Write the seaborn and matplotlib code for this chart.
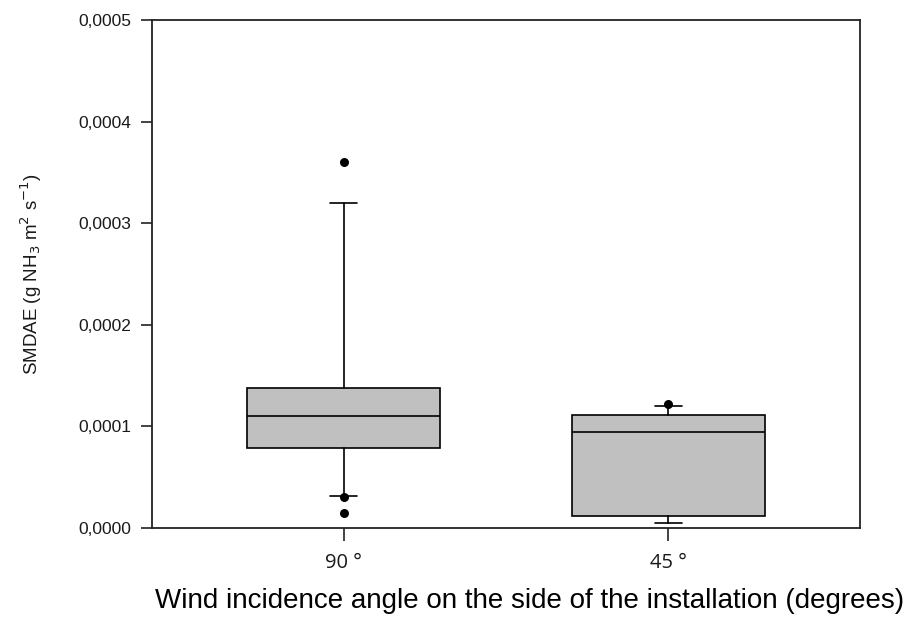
import numpy as np
import pandas as pd
import matplotlib
matplotlib.use("Agg")
import matplotlib.pyplot as plt
import seaborn as sns
from matplotlib.ticker import FuncFormatter

# Summary statistics per wind incidence angle (g NH3 m-2 s-1)
angles = ["90 °", "45 °"]
p10 = [0.0000315, 0.0000045]
q1 = [0.0000785, 0.0000120]
median = [0.0001100, 0.0000945]
q3 = [0.0001375, 0.0001110]
p90 = [0.0003200, 0.0001200]

# Values beyond the 10th/90th percentiles
outlier_angle = ["90 °", "90 °", "90 °", "45 °"]
outlier_value = [0.000360, 0.0000305, 0.0000150, 0.0001225]

sns.set_style("ticks")
plt.rcParams["font.family"] = ["Liberation Sans", "DejaVu Sans"]
plt.rcParams["text.color"] = "black"
plt.rcParams["xtick.color"] = "black"
plt.rcParams["ytick.color"] = "black"

fig = plt.figure(figsize=(9.10, 6.19), dpi=100)
ax = fig.add_axes([0.167, 0.147, 0.778, 0.8207])

stats = [
    dict(label=a, whislo=lo, q1=b1, med=m, q3=b3, whishi=hi, fliers=[])
    for a, lo, b1, m, b3, hi in zip(angles, p10, q1, median, q3, p90)
]
positions = np.arange(len(angles))
lw = 1.2
ax.bxp(
    stats,
    positions=positions,
    widths=0.594,
    capwidths=0.085,
    patch_artist=True,
    showfliers=False,
    boxprops=dict(facecolor="#c0c0c0", edgecolor="black", linewidth=lw),
    medianprops=dict(color="black", linewidth=lw),
    whiskerprops=dict(color="black", linewidth=lw),
    capprops=dict(color="black", linewidth=lw),
)

out = pd.DataFrame({"angle": outlier_angle, "value": outlier_value})
out["pos"] = out["angle"].map({a: i for i, a in enumerate(angles)})
sns.scatterplot(data=out, x="pos", y="value", ax=ax, color="black",
                marker="o", s=42, edgecolor="black", linewidth=0, zorder=5,
                legend=False)

ax.set_xlim(-0.59, 1.59)
ax.set_ylim(0, 0.0005)
ax.set_yticks(np.arange(0, 0.00051, 0.0001))
ax.yaxis.set_major_formatter(FuncFormatter(lambda v, _: f"{v:.4f}".replace(".", ",")))
ax.set_xticks(positions)
ax.set_xticklabels(angles, fontfamily=["Open Sans", "DejaVu Sans"], fontsize=14.5)

for sp in ax.spines.values():
    sp.set_visible(True)
    sp.set_linewidth(1.3)
    sp.set_color("#222222")
ax.tick_params(axis="y", length=8, width=1.2, labelsize=12.5, pad=7,
               color="#222222", labelcolor="#1a1a1a")
ax.tick_params(axis="x", length=9, width=1.2, pad=9,
               color="#222222", labelcolor="#1a1a1a")

ax.set_ylabel("")
ax.set_xlabel("")
fig.text(0.034, 0.557, "SMDAE (g NH$_3$ m$^2$ s$^{-1}$)", rotation=90,
         ha="center", va="center", fontsize=13.5, color="#1a1a1a")
fig.text(0.582, 0.029,
         "Wind incidence angle on the side of the installation (degrees)",
         ha="center", va="center", fontsize=20, color="black")

fig.savefig("out.png", dpi=100)
